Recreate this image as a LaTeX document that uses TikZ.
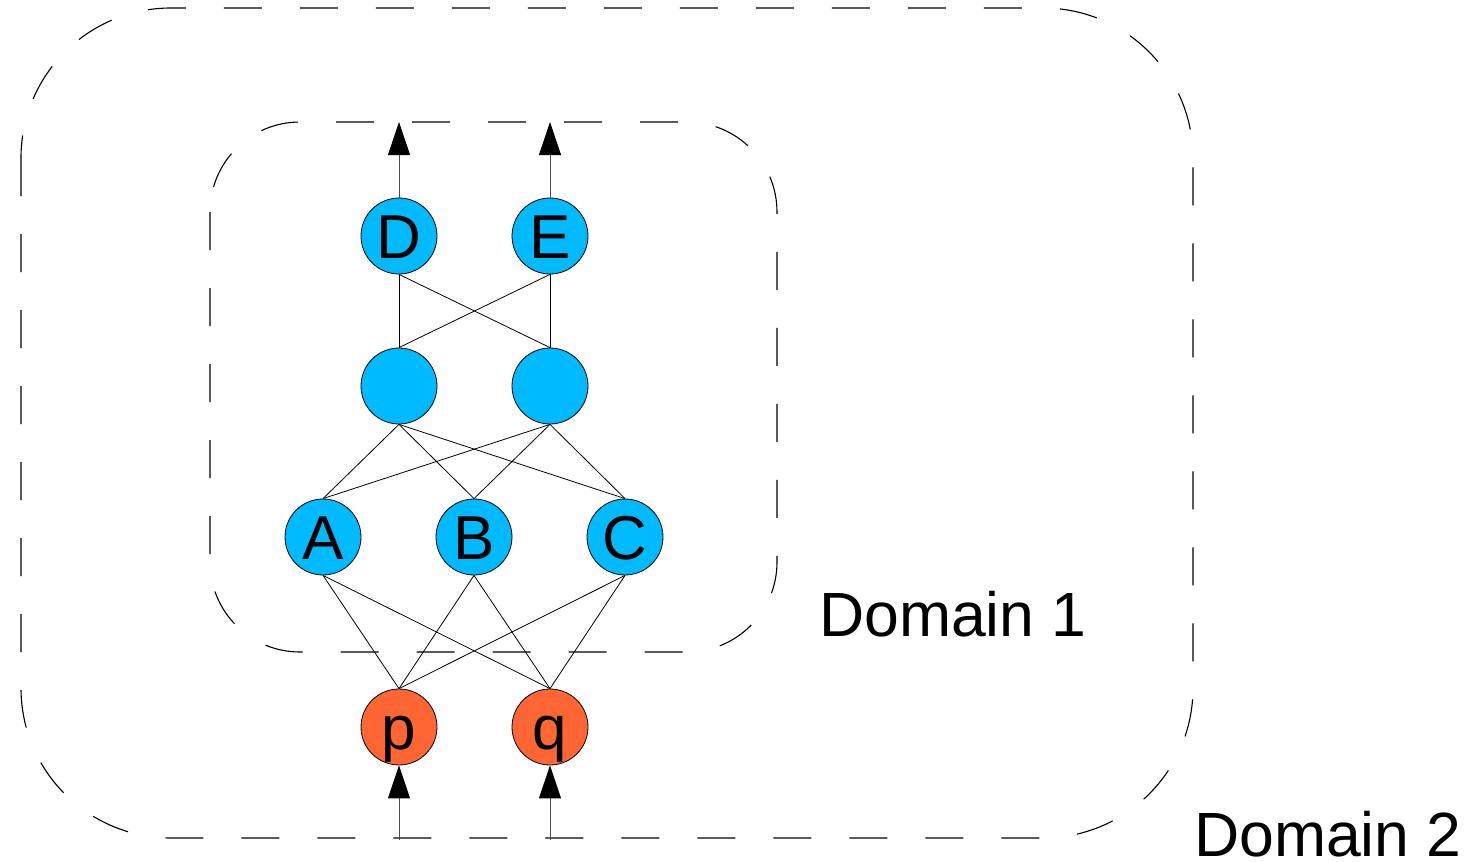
\documentclass[tikz,border=0pt]{standalone}
\usepackage{fontspec}
\setmainfont{Liberation Sans}
\usetikzlibrary{arrows.meta}
\definecolor{cellblue}{RGB}{0,186,255}
\definecolor{inorange}{RGB}{255,102,51}
\tikzset{
  unitnode/.style={circle, draw=black, line width=0.8pt, minimum size=76pt, inner sep=0pt,
    text height=45pt, text depth=0pt, font=\fontsize{62}{74}\selectfont},
  hidnode/.style={unitnode, fill=cellblue},
  innode/.style={unitnode, fill=inorange},
  wireline/.style={line width=0.8pt, black},
  flowarrow/.style={line width=0.9pt, black!70, -{Triangle[width=22pt,length=33pt,color=black,fill=black]}},
  domframe/.style={line width=1.1pt, black, dash pattern=on 38pt off 38pt},
  domlabel/.style={anchor=base west, inner sep=0pt, text depth=0pt, font=\fontsize{62.5}{74}\selectfont}
}
\begin{document}
\begin{tikzpicture}[x=1pt, y=-1pt]
\useasboundingbox (0,0) rectangle (1478,862);

% domain frames
\draw[domframe, rounded corners=150pt] (21,8) rectangle (1193,838);
\draw[domframe, rounded corners=90pt] (210,122) rectangle (777,652);
\node[domlabel] (dom1) at (819,636) {Domain 1};
\node[domlabel] (dom2) at (1194,856) {Domain 2};

% units
\node[hidnode] (D) at (399,236) {D};
\node[hidnode] (E) at (550,236) {E};
\node[hidnode] (H1) at (399,386) {};
\node[hidnode] (H2) at (550,386) {};
\node[hidnode] (A) at (323,537) {A};
\node[hidnode] (B) at (474,537) {B};
\node[hidnode] (C) at (625,537) {C};
\node[innode] (p) at (399,727) {p};
\node[innode] (q) at (550,727) {q};

% connections
\foreach \u in {D,E}
  \foreach \v in {H1,H2}
    \draw[wireline] (\u.south) -- (\v.north);
\foreach \u in {H1,H2}
  \foreach \v in {A,B,C}
    \draw[wireline] (\u.south) -- (\v.north);
\foreach \u in {A,B,C}
  \foreach \v in {p,q}
    \draw[wireline] (\u.south) -- (\v.north);

% outputs and inputs
\coordinate (outD) at (399,122);
\coordinate (outE) at (550,122);
\coordinate (inp) at (399,840);
\coordinate (inq) at (550,840);
\draw[flowarrow] (D.north) -- (outD);
\draw[flowarrow] (E.north) -- (outE);
\draw[flowarrow] (inp) -- (p.south);
\draw[flowarrow] (inq) -- (q.south);
\end{tikzpicture}
\end{document}
